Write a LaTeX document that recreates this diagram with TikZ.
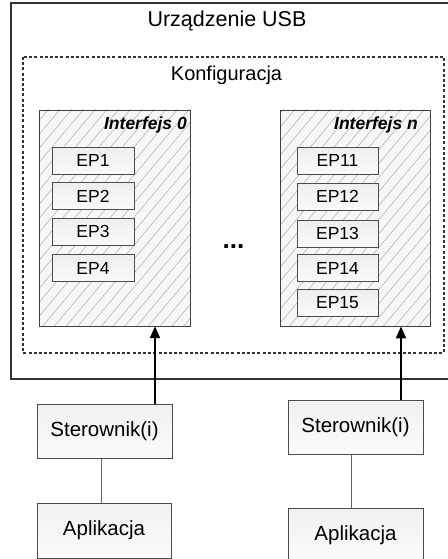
\documentclass[tikz,border=0pt]{standalone}
\usepackage{fontspec}
\setmainfont{Liberation Sans}
\usetikzlibrary{arrows.meta,patterns.meta}
\begin{document}
\begin{tikzpicture}[x=1pt,y=-1pt,
  outerbox/.style={draw=black!80,line width=1.5pt},
  dashbox/.style={draw=black!80,line width=1.3pt,dash pattern=on 3pt off 2.2pt},
  iface/.style={draw=black!75,line width=0.8pt,minimum width=151pt,minimum height=216pt,inner sep=0pt,
    preaction={fill=gray!6},
    pattern={Lines[angle=50,distance=9pt,line width=0.45pt]},pattern color=gray!70},
  epbox/.style={draw=black!70,line width=0.7pt,top color=gray!13,bottom color=gray!4,minimum width=82pt,minimum height=27pt,inner sep=0pt,
    font=\fontsize{17.5}{19}\selectfont},
  swbox/.style={draw=black!70,line width=0.7pt,top color=gray!11,bottom color=gray!3,minimum width=135pt,minimum height=54pt,inner sep=0pt,
    font=\fontsize{20.5}{22}\selectfont},
  ttl/.style={font=\fontsize{21.5}{23}\selectfont,inner sep=0pt,anchor=base},
  iflabel/.style={font=\fontsize{17.5}{19}\selectfont\bfseries\itshape,inner sep=0pt,anchor=base east},
  arr/.style={line width=2pt,-{Triangle[length=12pt,width=10pt]}},
  link/.style={draw=black!60,line width=1pt}]
\useasboundingbox (0,0) rectangle (447,559);
% outer device box
\draw[outerbox] (11,3) rectangle (462,379);
\node[ttl] (usb) at (227,26.5) {Urządzenie USB};
% configuration
\draw[dashbox] (23,57) rectangle (444,353);
\node[ttl,font=\fontsize{20}{22}\selectfont] (konf) at (226.5,81) {Konfiguracja};
% interfaces
\node[iface] (if0) at (114.5,218) {};
\node[iface,minimum width=150pt] (ifn) at (355,218) {};
\node[iflabel] (l0) at (187,129) {Interfejs 0};
\node[iflabel] (ln) at (418,129) {Interfejs n};
% endpoints
\node[epbox] (ep1) at (93,160.5) {EP1};
\node[epbox] (ep2) at (93,196) {EP2};
\node[epbox] (ep3) at (93,231.5) {EP3};
\node[epbox] (ep4) at (93,268) {EP4};
\node[epbox,minimum width=81pt] (ep11) at (337.5,160.5) {EP11};
\node[epbox,minimum width=81pt] (ep12) at (337.5,196.5) {EP12};
\node[epbox,minimum width=81pt] (ep13) at (337.5,233.5) {EP13};
\node[epbox,minimum width=81pt] (ep14) at (337.5,268) {EP14};
\node[epbox,minimum width=81pt] (ep15) at (337.5,302.5) {EP15};
\node[font=\fontsize{26}{28}\selectfont\bfseries,inner sep=0pt,anchor=base] (dots) at (233.5,248) {...};
% drivers and applications
\node[swbox] (sL) at (104.5,431.5) {Sterownik(i)};
\node[swbox] (sR) at (355.5,427.5) {Sterownik(i)};
\node[swbox,minimum width=134pt,minimum height=55pt] (aL) at (104,530.5) {Aplikacja};
\node[swbox,minimum height=55pt] (aR) at (355.5,535.5) {Aplikacja};
% connectors
\coordinate (axL) at (155,0);
\coordinate (axR) at (401,0);
\coordinate (lxL) at (101,0);
\coordinate (lxR) at (351,0);
\draw[arr] (sL.north -| axL) -- (if0.south -| axL);
\draw[arr] (sR.north -| axR) -- (ifn.south -| axR);
\draw[link] (sL.south -| lxL) -- (aL.north -| lxL);
\draw[link] (sR.south -| lxR) -- (aR.north -| lxR);
\end{tikzpicture}
\end{document}
